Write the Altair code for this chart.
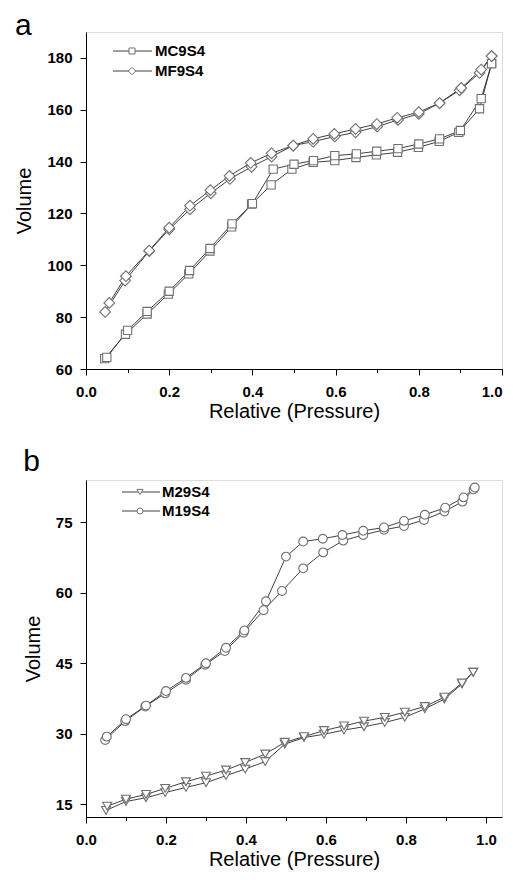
import altair as alt
import pandas as pd

# ---------------- Panel a data ----------------
x_mc_ads = [0.045, 0.095, 0.147, 0.198, 0.247, 0.298, 0.350, 0.398, 0.445, 0.495,
            0.546, 0.598, 0.649, 0.698, 0.749, 0.799, 0.849, 0.896, 0.946, 0.975]
y_mc_ads = [64.0, 73.4, 81.2, 88.9, 96.7, 105.5, 114.8, 123.6, 131.0, 137.1,
            139.7, 140.4, 141.6, 142.6, 143.6, 145.5, 147.8, 151.3, 160.4, 177.8]
x_mc_des = [0.050, 0.100, 0.147, 0.200, 0.249, 0.298, 0.351, 0.400, 0.450, 0.500,
            0.547, 0.598, 0.650, 0.699, 0.750, 0.800, 0.850, 0.900, 0.950, 0.975]
y_mc_des = [64.5, 74.9, 82.2, 90.0, 98.0, 106.5, 116.0, 123.8, 137.1, 139.0,
            140.4, 142.3, 143.0, 144.0, 145.0, 146.8, 148.8, 152.0, 164.3, 177.8]

x_mf_ads = [0.046, 0.094, 0.152, 0.200, 0.250, 0.300, 0.346, 0.398, 0.446, 0.498,
            0.546, 0.598, 0.648, 0.700, 0.750, 0.800, 0.850, 0.898, 0.946, 0.975]
y_mf_ads = [82.0, 94.1, 105.5, 113.9, 121.6, 127.8, 133.3, 138.0, 141.9, 146.2,
            147.7, 149.7, 151.3, 153.5, 156.1, 158.4, 162.6, 167.5, 174.2, 180.7]
x_mf_des = [0.056, 0.096, 0.152, 0.200, 0.250, 0.299, 0.345, 0.396, 0.446, 0.498,
            0.546, 0.597, 0.648, 0.699, 0.748, 0.800, 0.850, 0.902, 0.950, 0.975]
y_mf_des = [85.5, 95.8, 105.7, 114.5, 123.0, 129.0, 134.5, 139.5, 143.2, 146.2,
            148.8, 150.7, 152.6, 154.5, 156.9, 159.1, 162.6, 168.4, 175.5, 180.7]

# ---------------- Panel b data ----------------
x_m29_ads = [0.050, 0.100, 0.150, 0.198, 0.250, 0.300, 0.350, 0.398, 0.448, 0.497,
             0.545, 0.595, 0.645, 0.695, 0.747, 0.797, 0.847, 0.896, 0.940, 0.968]
y_m29_ads = [13.7, 15.6, 16.4, 17.5, 18.6, 19.6, 21.1, 22.5, 24.1, 27.8,
             29.2, 29.9, 30.8, 31.5, 32.4, 33.5, 35.3, 37.4, 40.6, 43.1]
x_m29_des = [0.053, 0.100, 0.150, 0.198, 0.250, 0.300, 0.350, 0.398, 0.448, 0.497,
             0.545, 0.595, 0.645, 0.695, 0.747, 0.797, 0.847, 0.896, 0.940, 0.968]
y_m29_des = [14.6, 16.1, 17.1, 18.4, 19.8, 21.0, 22.3, 23.9, 25.7, 28.2,
             29.4, 30.7, 31.7, 32.7, 33.5, 34.6, 35.8, 37.8, 40.8, 43.1]

x_m19_ads = [0.048, 0.098, 0.148, 0.198, 0.250, 0.298, 0.347, 0.394, 0.444, 0.490,
             0.543, 0.593, 0.643, 0.693, 0.745, 0.795, 0.845, 0.896, 0.941, 0.969]
y_m19_ads = [28.7, 32.7, 35.8, 38.6, 41.5, 44.7, 47.6, 51.5, 56.3, 60.4,
             65.2, 68.6, 71.1, 72.3, 73.4, 74.2, 75.5, 77.3, 79.4, 82.0]
x_m19_des = [0.052, 0.100, 0.150, 0.200, 0.250, 0.300, 0.350, 0.396, 0.450, 0.500,
             0.543, 0.592, 0.641, 0.693, 0.745, 0.795, 0.847, 0.898, 0.944, 0.972]
y_m19_des = [29.4, 33.1, 36.0, 39.1, 41.9, 45.0, 48.3, 52.0, 58.2, 67.7,
             70.9, 71.5, 72.3, 73.2, 73.9, 75.3, 76.6, 78.1, 80.3, 82.4]

series_a = ["MC9S4", "MF9S4"]
series_b = ["M29S4", "M19S4"]
shapes_a = ["square", "diamond"]
shapes_b = ["triangle-down", "circle"]
sizes_a = [68, 115]
sizes_b = [80, 78]

x_ticks = [0.0, 0.1, 0.2, 0.3, 0.4, 0.5, 0.6, 0.7, 0.8, 0.9, 1.0]
y_ticks_a = [60, 70, 80, 90, 100, 110, 120, 130, 140, 150, 160, 170, 180, 190]
y_ticks_b = [15, 22.5, 30, 37.5, 45, 52.5, 60, 67.5, 75, 82.5]

FONT = "Liberation Sans"
LINE_COLOR = "#2b2b2b"
MARK_COLOR = "#707070"


def make_df(entries):
    rows = []
    for name, branch, xs, ys in entries:
        for i, (xv, yv) in enumerate(zip(xs, ys)):
            rows.append({"series": name, "branch": branch, "key": name + branch,
                         "idx": i, "x": xv, "y": yv})
    return pd.DataFrame(rows)


df_a = make_df([
    ("MC9S4", "ads", x_mc_ads, y_mc_ads),
    ("MC9S4", "des", x_mc_des, y_mc_des),
    ("MF9S4", "ads", x_mf_ads, y_mf_ads),
    ("MF9S4", "des", x_mf_des, y_mf_des),
])
df_b = make_df([
    ("M29S4", "ads", x_m29_ads, y_m29_ads),
    ("M29S4", "des", x_m29_des, y_m29_des),
    ("M19S4", "ads", x_m19_ads, y_m19_ads),
    ("M19S4", "des", x_m19_des, y_m19_des),
])

W, H = 416, 337


def axis(values, label_test, title, fmt, label_pad, title_pad, align=None):
    kw = {}
    if align is not None:
        kw["labelAlign"] = align
    return alt.Axis(
        values=values,
        labelExpr=f"({label_test}) ? format(datum.value, '{fmt}') : ''",
        title=title,
        grid=False,
        labelOverlap=False,
        labelFlush=False,
        tickSize={"condition": {"test": label_test, "value": 6}, "value": 3.5},
        tickColor="black",
        domainColor="black",
        labelColor="black",
        titleColor="black",
        labelFont=FONT,
        titleFont=FONT,
        labelFontSize=15,
        labelFontWeight="bold",
        titleFontSize=20,
        titleFontWeight="normal",
        labelPadding=label_pad,
        titlePadding=title_pad,
        **kw,
    )


def panel(df, series, shapes, sizes, xmax, ydom, yvals, ymajor, letter, leg, toff, xalign):
    x_major = "abs(round(datum.value*10) % 2) == 0"
    xenc = alt.X("x:Q", scale=alt.Scale(domain=[0, xmax], nice=False, zero=False),
                 axis=axis(x_ticks, x_major, "Relative (Pressure)", ".1f", 9, 2, xalign))
    yenc = alt.Y("y:Q", scale=alt.Scale(domain=ydom, nice=False, zero=False),
                 axis=axis(yvals, ymajor, "Volume", "d", 8, 12))
    base = alt.Chart(df)
    layers = [base.mark_line(color=LINE_COLOR, strokeWidth=0.9).encode(
        x=xenc, y=yenc, detail="key:N", order="idx:Q")]
    for s, sh, sz in zip(series, shapes, sizes):
        layers.append(base.transform_filter(alt.datum.series == s).mark_point(
            filled=True, fill="white", stroke=MARK_COLOR, strokeWidth=1.1,
            opacity=1, shape=sh, size=sz).encode(x="x:Q", y="y:Q"))
    lx0, lx1, lsym, ltx, ly0, ldy = leg
    for i, (s, sh) in enumerate(zip(series, shapes)):
        ly = ly0 + i * ldy
        lb = alt.Chart(pd.DataFrame({"series": [s]}))
        layers.append(lb.mark_rule(color=LINE_COLOR, strokeWidth=0.9).encode(
            x=alt.value(lx0), x2=alt.value(lx1), y=alt.value(ly)))
        layers.append(lb.mark_point(filled=True, fill="white", stroke=MARK_COLOR,
                                    strokeWidth=1, opacity=1, shape=sh,
                                    size=36 if sh != "diamond" else 55).encode(
            x=alt.value(lsym), y=alt.value(ly)))
        layers.append(lb.mark_text(align="left", baseline="middle", font=FONT,
                                   fontSize=15, fontWeight="bold", color="black").encode(
            x=alt.value(ltx), y=alt.value(ly), text="series:N"))
    return alt.layer(*layers).properties(
        width=W, height=H,
        title=alt.TitleParams(letter, anchor="start", frame="bounds", font=FONT,
                              fontSize=30, fontWeight="normal", color="black", offset=toff),
    )


# the last x label of panel a sits at the right edge of the page
align_a = {"condition": {"test": "datum.value >= 0.99", "value": "right"}, "value": "center"}

pa = panel(df_a, series_a, shapes_a, sizes_a, 1.0, [60, 190], y_ticks_a,
           "datum.value % 20 == 0", "a", (27, 66, 46, 69, 19, 20), -8.5, align_a)
pb = panel(df_b, series_b, shapes_b, sizes_b, 1.04, [12.3, 84], y_ticks_b,
           "datum.value % 15 == 0", "b", (36, 74, 54, 76, 12, 19), 3, None)

chart = alt.vconcat(pa, pb, spacing=24).configure_view(stroke=None).configure(
    padding={"left": 6, "top": 2, "right": 0, "bottom": 0})

chart.save("out.html", embed_options={"renderer": "svg", "actions": False})
